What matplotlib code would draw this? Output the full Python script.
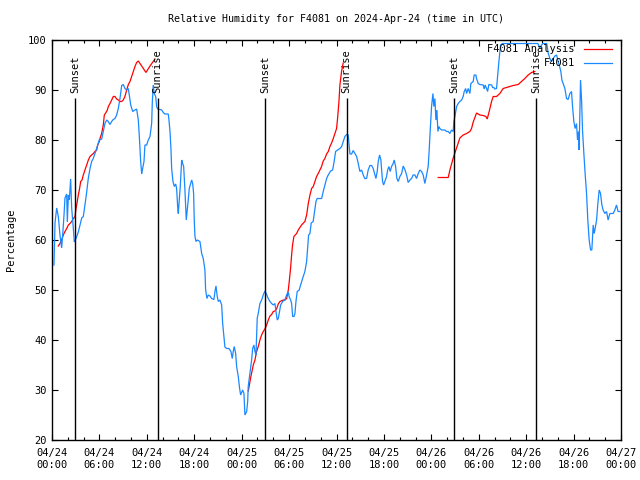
import matplotlib
matplotlib.use("Agg")
import matplotlib.pyplot as plt
from matplotlib.ticker import MultipleLocator

# ---------------- data (hours since 2024-04-24 00:00 UTC, % RH) ----------------
obs_hours = [0.25, 0.38, 0.59, 0.80, 1.01, 1.22, 1.35, 1.52, 1.64, 1.86, 1.94, 2.07, 2.19, 2.36,
             2.49, 2.70, 2.82, 3.04, 3.33, 3.54, 3.76, 3.96, 4.17, 4.39, 4.59, 4.81, 5.02, 5.22,
             5.44, 5.65, 5.98, 6.29, 6.49, 6.70, 6.92, 7.12, 7.34, 7.55, 7.75, 7.97, 8.18, 8.39,
             8.60, 8.82, 9.02, 9.23, 9.45, 9.65, 9.78, 9.96, 10.21, 10.50, 10.71, 10.92, 11.04,
             11.22, 11.35, 11.47, 11.64, 11.76, 11.98, 12.18, 12.40, 12.61, 12.69, 12.81, 12.94,
             13.12, 13.24, 13.37, 13.88, 14.08, 14.29, 14.71, 14.80, 14.93, 15.05, 15.14, 15.31,
             15.47, 15.65, 15.77, 15.90, 15.98, 16.10, 16.23, 16.41, 16.53, 16.66, 16.74, 16.82,
             16.99, 17.12, 17.24, 17.37, 17.55, 17.67, 17.80, 17.92, 18.00, 18.09, 18.22, 18.38,
             18.72, 18.94, 19.14, 19.35, 19.44, 19.61, 19.77, 19.99, 20.20, 20.49, 20.62, 20.75,
             20.91, 21.04, 21.25, 21.47, 21.59, 21.76, 21.88, 22.10, 22.39, 22.64, 22.81, 22.93,
             23.06, 23.24, 23.36, 23.57, 23.74, 23.87, 24.12, 24.29, 24.41, 24.63, 24.76, 24.83,
             24.96, 25.14, 25.26, 25.39, 25.55, 25.68, 25.81, 25.89, 25.97, 26.10, 26.31, 26.53,
             26.73, 26.94, 27.16, 27.36, 27.58, 27.79, 28.00, 28.21, 28.34, 28.50, 28.63, 28.75,
             28.93, 29.18, 29.47, 29.69, 29.89, 30.02, 30.20, 30.32, 30.45, 30.61, 30.74, 30.87,
             31.03, 31.28, 31.46, 31.71, 32.00, 32.22, 32.35, 32.47, 32.64, 32.80, 33.05, 33.23,
             33.40, 33.56, 34.12, 34.32, 34.53, 34.75, 34.95, 35.26, 35.51, 35.67, 35.89, 36.14,
             36.43, 36.65, 36.85, 37.06, 37.28, 37.48, 37.61, 37.70, 37.91, 38.11, 38.33, 38.55,
             38.75, 38.96, 39.18, 39.38, 39.59, 39.81, 40.01, 40.23, 40.44, 40.64, 40.86, 40.99,
             41.15, 41.28, 41.45, 41.62, 41.71, 41.83, 41.96, 42.12, 42.34, 42.47, 42.63, 42.80,
             42.97, 43.17, 43.30, 43.48, 43.64, 43.81, 44.02, 44.24, 44.44, 44.65, 44.87, 45.07,
             45.29, 45.50, 45.70, 45.92, 46.13, 46.34, 46.55, 46.77, 46.97, 47.18, 47.40, 47.60,
             47.73, 47.85, 48.03, 48.20, 48.32, 48.45, 48.58, 48.70, 48.83, 48.96, 49.08, 49.30,
             49.71, 49.93, 50.13, 50.35, 50.56, 50.77, 50.85, 50.98, 51.20, 51.40, 51.61, 51.83,
             52.03, 52.16, 52.34, 52.46, 52.66, 52.88, 53.00, 53.30, 53.42, 53.64, 53.72, 53.93,
             54.14, 54.56, 54.69, 54.81, 54.99, 55.12, 55.28, 55.63, 55.75, 55.91, 56.04, 56.25,
             56.38, 56.55, 56.67, 56.76, 57.01, 61.48, 61.73, 61.95, 62.10, 62.60, 62.79, 63.00,
             63.21, 63.42, 63.63, 63.85, 64.05, 64.18, 64.39, 64.52, 64.68, 64.90, 65.11, 65.31,
             65.53, 65.74, 65.87, 66.03, 66.20, 66.37, 66.50, 66.63, 66.70, 66.88, 67.01, 67.13,
             67.30, 67.46, 67.64, 67.80, 67.97, 68.15, 68.31, 68.48, 68.60, 68.73, 68.91, 69.07,
             69.24, 69.41, 69.58, 69.74, 69.95, 70.17, 70.37, 70.59, 71.01, 71.22, 71.43, 71.63,
             71.85]
obs_rh = [55.0, 63.4, 66.4, 64.7, 61.0, 58.4, 61.0, 65.0, 68.4, 69.2, 63.6, 69.0, 68.0, 72.2,
          66.4, 62.3, 59.6, 60.3, 61.6, 63.0, 64.4, 64.7, 67.0, 69.6, 72.3, 74.3, 75.7, 76.3,
          77.3, 78.3, 80.0, 80.2, 81.7, 83.3, 84.0, 83.7, 83.1, 83.7, 84.1, 84.3, 85.0, 86.3,
          88.3, 90.9, 91.1, 90.3, 90.0, 90.3, 89.0, 87.0, 85.7, 86.0, 86.2, 84.0, 81.0,
          75.7, 73.2, 74.3, 75.7, 79.0, 79.0, 80.0, 80.7, 83.3, 87.4, 91.0, 89.3,
          88.7, 86.7, 86.2, 86.0, 85.5, 85.2, 85.2, 84.0, 81.7, 78.3, 74.3, 71.7,
          70.7, 71.2, 70.3, 66.7, 65.3, 68.0, 70.7, 76.0, 75.3, 74.7, 72.3, 70.0,
          64.0, 66.0, 68.0, 70.3, 71.3, 72.0, 71.3, 69.3, 64.0, 60.7, 59.7, 60.0,
          59.7, 57.3, 56.3, 54.0, 50.0, 48.3, 49.0, 48.8, 48.3, 48.1, 49.7, 50.8,
          48.7, 47.7, 48.0, 47.0, 43.4, 40.7, 38.6, 38.3, 38.3, 37.7, 36.3, 37.7,
          38.7, 37.3, 34.7, 32.7, 30.3, 29.0, 30.0, 29.3, 25.0, 25.7, 27.7, 30.7,
          32.3, 34.4, 36.0, 38.3, 39.0, 37.7, 37.0, 41.0, 44.4, 45.3, 47.3, 48.0,
          49.0, 49.8, 49.1, 48.3, 47.7, 47.3, 47.0, 47.3, 45.7, 44.0, 44.3, 45.3,
          47.0, 47.7, 48.0, 49.0, 49.6, 48.6, 48.0, 47.3, 44.7, 44.7, 45.3, 47.7,
          49.7, 50.0, 51.0, 52.3, 53.7, 55.7, 58.4, 61.0, 61.3, 63.4, 63.7, 65.7,
          67.7, 68.3, 68.3, 69.7, 71.0, 72.3, 73.0, 73.8, 74.0, 75.4, 77.7, 78.0,
          78.3, 78.7, 79.7, 80.7, 81.1, 81.0, 78.7, 77.2, 77.2, 77.9, 77.3, 76.7,
          75.3, 73.7, 74.0, 73.0, 72.3, 72.3, 74.0, 74.9, 74.9, 74.3, 73.0, 72.3,
          73.7, 75.7, 77.0, 76.0, 74.0, 71.7, 71.0, 71.7, 72.7, 74.0, 74.7, 73.7,
          74.7, 75.3, 76.0, 74.7, 72.3, 71.7, 72.7, 73.3, 74.8, 74.1, 73.0, 71.5,
          72.0, 72.3, 73.0, 73.0, 72.3, 73.3, 74.0, 73.7, 73.0, 71.3, 73.0, 74.7,
          78.0, 81.7, 86.7, 89.3, 86.7, 88.3, 84.0, 86.0, 81.7, 82.7, 82.3, 82.0,
          82.0, 81.7, 81.7, 81.3, 82.0, 81.7, 83.7, 84.7, 86.7, 87.3, 87.7, 88.0,
          88.7, 89.7, 90.3, 89.3, 90.3, 89.3, 91.3, 91.7, 93.0, 93.0, 92.3, 91.3,
          91.1, 91.0, 90.2, 91.0, 90.3, 89.7, 91.1, 91.0, 90.5, 90.5, 90.2, 90.3,
          92.7, 95.7, 97.7, 99.0, 99.3, 99.3, 98.4, 99.0, 99.3, 99.3, 97.4, 96.3,
          95.7, 96.3, 96.8, 97.0, 95.7, 95.0, 93.7, 92.0, 91.3, 90.3, 88.3, 88.1,
          89.3, 89.7, 86.7, 83.7, 82.3, 83.3, 80.0, 81.7, 78.0, 92.0, 88.0, 82.0,
          77.3, 73.3, 69.3, 64.0, 60.0, 58.0, 58.0, 63.0, 61.3, 62.3, 64.0, 67.3,
          70.0, 69.3, 67.0, 66.0, 65.3, 65.7, 64.0, 65.3, 65.3, 66.0, 67.0, 65.7,
          65.7]

ana1_hours = [0.80, 1.01, 1.22, 1.43, 1.64, 1.86, 2.07, 2.28, 2.49, 2.70, 2.91, 3.04, 3.20, 3.33,
              3.46, 3.63, 3.80, 3.96, 4.17, 4.39, 4.60, 4.81, 5.02, 5.23, 5.44, 5.65, 5.78, 5.99,
              6.07, 6.28, 6.49, 6.62, 6.83, 7.00, 7.13, 7.34, 7.55, 7.76, 7.97, 8.18, 8.39, 8.60,
              8.81, 9.02, 9.23, 9.45, 9.66, 9.87, 10.08, 10.29, 10.50, 10.71, 10.92, 11.39, 11.89,
              12.40, 13.03]
ana1_rh = [58.8, 59.3, 60.0, 61.0, 61.7, 62.3, 63.0, 63.3, 63.7, 64.3, 64.7, 66.3, 67.7, 69.0,
           70.0, 71.7, 72.0, 73.0, 74.0, 75.0, 76.0, 76.7, 77.0, 77.3, 77.7, 78.0, 79.0, 79.7,
           80.3, 81.3, 83.0, 85.0, 85.5, 86.0, 86.7, 87.3, 88.0, 88.7, 88.7, 88.2, 88.0, 87.7,
           87.7, 88.0, 88.7, 90.0, 91.1, 91.7, 92.7, 93.7, 94.7, 95.5, 95.8, 94.7, 93.5,
           94.8, 96.2]

ana2_hours = [24.84, 25.13, 25.47, 25.68, 25.89, 26.10, 26.31, 26.52, 26.73, 26.94, 27.16, 27.37,
              27.58, 27.79, 28.00, 28.21, 28.42, 28.63, 28.84, 29.26, 29.47, 29.69, 29.90, 30.02,
              30.19, 30.32, 30.44, 30.61, 30.95, 31.16, 31.37, 31.58, 32.00, 32.22, 32.43, 32.64,
              32.85, 33.06, 33.27, 33.48, 33.69, 33.90, 34.11, 34.32, 34.53, 34.75, 34.96, 35.17,
              35.38, 35.59, 35.80, 36.01, 36.14, 36.31, 36.43, 36.64, 36.85]
ana2_rh = [29.8, 32.4, 35.0, 36.0, 37.7, 38.7, 40.0, 41.0, 41.7, 42.2, 43.0, 44.0,
           44.8, 45.1, 45.7, 45.8, 46.2, 47.2, 47.7, 48.0, 48.0, 48.3, 50.0, 51.7,
           54.4, 57.0, 59.0, 60.7, 61.3, 62.0, 62.5, 63.0, 63.7, 65.0, 67.3, 69.0,
           70.3, 70.7, 71.7, 72.7, 73.3, 74.0, 74.7, 75.8, 76.3, 77.2, 77.7, 78.7,
           79.4, 80.3, 81.3, 82.3, 84.4, 87.7, 91.0, 93.7, 95.4]

ana3_hours = [48.87, 50.14, 50.35, 50.77, 51.19, 51.61, 52.03, 52.46, 52.88, 53.09, 53.30, 53.72,
              54.14, 54.56, 54.90, 55.07, 55.32, 55.62, 55.83, 56.25, 56.67, 57.09, 57.72, 58.36,
              58.99, 59.41, 59.83, 60.25, 60.68, 61.10]
ana3_rh = [72.5, 72.5, 74.0, 76.4, 78.4, 80.4, 81.0, 81.3, 81.7, 82.3, 83.6, 85.4,
           85.0, 84.9, 84.7, 84.2, 85.7, 87.7, 88.7, 88.7, 89.3, 90.3, 90.6, 90.9,
           91.1, 91.7, 92.3, 93.0, 93.5, 93.7]

sun_hours = [2.92, 13.37, 26.95, 37.28, 50.90, 61.30]
sun_labels = ["Sunset", "Sunrise", "Sunset", "Sunrise", "Sunset", "Sunrise"]

xtick_hours = [0, 6, 12, 18, 24, 30, 36, 42, 48, 54, 60, 66, 72]
xtick_labels = ["04/24\n00:00", "04/24\n06:00", "04/24\n12:00", "04/24\n18:00",
                "04/25\n00:00", "04/25\n06:00", "04/25\n12:00", "04/25\n18:00",
                "04/26\n00:00", "04/26\n06:00", "04/26\n12:00", "04/26\n18:00",
                "04/27\n00:00"]

title = "Relative Humidity for F4081 on 2024-Apr-24 (time in UTC)"
ylabel = "Percentage"
legend_labels = ["F4081 Analysis", "F4081"]

# ---------------- drawing ----------------
RED = "#ff0000"
BLUE = "#1a88ff"
FONT = "DejaVu Sans Mono"
FS = 7

plt.rcParams["font.family"] = FONT
plt.rcParams["font.size"] = FS

fig = plt.figure(figsize=(6.4, 4.8), dpi=100)
ax = fig.add_axes([52 / 640, 1 - 440 / 480, 569 / 640, 400 / 480])

for hrs, vals in ((ana1_hours, ana1_rh), (ana2_hours, ana2_rh), (ana3_hours, ana3_rh)):
    ax.plot(hrs, vals, color=RED, lw=0.9, solid_joinstyle="miter")
ax.plot(obs_hours, obs_rh, color=BLUE, lw=0.9, solid_joinstyle="miter")

ax.vlines(sun_hours, 20, 88.4, color="black", lw=1.0)
for h, lab in zip(sun_hours, sun_labels):
    ax.text(h, 89.4, lab, rotation=90, ha="center", va="bottom", fontsize=FS + 0.5,
            family=FONT)

ax.set_xlim(0, 72)
ax.set_ylim(20, 100)
ax.set_xticks(xtick_hours)
ax.set_xticklabels(xtick_labels)
ax.xaxis.set_minor_locator(MultipleLocator(2))
ax.yaxis.set_major_locator(MultipleLocator(10))
ax.tick_params(which="both", direction="in", top=True, right=True, width=0.8,
               labelsize=FS + 0.5)
ax.tick_params(which="major", length=4.5, pad=6)
ax.tick_params(which="minor", length=2.5)
ax.tick_params(axis="y", pad=4)
for sp in ax.spines.values():
    sp.set_linewidth(1.0)

fig.text((52 + 621) / 2 / 640, 1 - 19 / 480, title, ha="center", va="center",
         fontsize=FS + 0.2, family=FONT)
fig.text(11 / 640, 0.5, ylabel, rotation=90, ha="center", va="center",
         fontsize=FS + 0.5, family=FONT)

# key (gnuplot style: right-aligned text, sample line to the right)
for i, (lab, col) in enumerate(zip(legend_labels, [RED, BLUE])):
    y = 0.9775 - i * 0.035
    ax.text(0.919, y, lab, transform=ax.transAxes, ha="right", va="center",
            fontsize=FS + 0.5, family=FONT)
    ax.plot([0.935, 0.984], [y, y], transform=ax.transAxes, color=col, lw=0.9)

fig.savefig("out.png", dpi=100)
